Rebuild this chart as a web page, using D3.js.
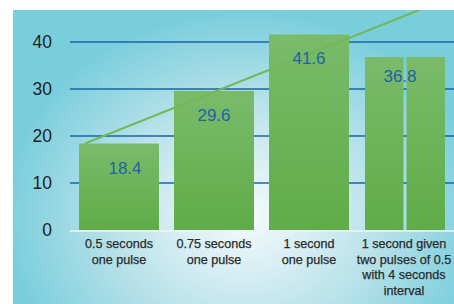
<!DOCTYPE html>
<html>
<head>
<meta charset="utf-8">
<script src="https://cdn.jsdelivr.net/npm/d3@7"></script>
<style>
  html, body { margin: 0; padding: 0; background: #fff; }
  svg { display: block; }
</style>
</head>
<body>
<div id="chart"></div>
<script>
const WIDTH = 454
const HEIGHT = 304

// data
const categories = ['0.5 seconds one pulse', '0.75 seconds one pulse', '1 second one pulse', '1 second given two pulses']
const values = [18.4, 29.6, 41.6, 36.8]
const subBars = [1, 1, 1, 2] // last one is drawn as two pulses
const xLabels = [
  ['0.5 seconds', 'one pulse'],
  ['0.75 seconds', 'one pulse'],
  ['1 second', 'one pulse'],
  ['1 second given', 'two pulses of 0.5', 'with 4 seconds', 'interval'],
]
const yTicks = [0, 10, 20, 30, 40]
// trend line: position in category units (0 = first bar centre), value
const trendPos = [-0.36, 3.16]
const trendVal = [18.4, 46.8]

const svg = d3.select('#chart').append('svg')
  .attr('width', WIDTH).attr('height', HEIGHT)

const defs = svg.append('defs')
const bg = defs.append('radialGradient').attr('id', 'bg')
  .attr('gradientUnits', 'userSpaceOnUse')
  .attr('cx', 245).attr('cy', 215).attr('r', 240)
  .attr('gradientTransform', 'translate(245,215) scale(1,0.85) translate(-245,-215)')
bg.append('stop').attr('offset', 0).attr('stop-color', '#f6fbfc')
bg.append('stop').attr('offset', 0.55).attr('stop-color', '#b9e2ea')
bg.append('stop').attr('offset', 1).attr('stop-color', '#79cedc')

const barGrad = defs.append('linearGradient').attr('id', 'bar')
  .attr('x1', 0).attr('y1', 0).attr('x2', 0).attr('y2', 1)
barGrad.append('stop').attr('offset', 0).attr('stop-color', '#79bb6a')
barGrad.append('stop').attr('offset', 1).attr('stop-color', '#60ac48')

defs.append('clipPath').attr('id', 'panel')
  .append('rect').attr('x', 13).attr('y', 10).attr('width', WIDTH - 13).attr('height', HEIGHT - 10)

svg.append('rect')
  .attr('x', 13).attr('y', 10)
  .attr('width', WIDTH - 13).attr('height', HEIGHT - 10)
  .attr('fill', 'url(#bg)')

const x = d3.scaleBand()
  .domain(categories)
  .range([71.5, 451.5])
  .paddingInner(15 / 95)
  .paddingOuter(0.079)

const y = d3.scaleLinear().domain([0, 40]).range([230, 42])

// continuous x for the trend line
const xc = d3.scaleLinear()
  .domain([0, 1])
  .range([x(categories[0]) + x.bandwidth() / 2, x(categories[1]) + x.bandwidth() / 2])

// grid
svg.append('g').selectAll('line')
  .data(yTicks.filter(d => d > 0))
  .join('line')
  .attr('x1', 70).attr('x2', WIDTH)
  .attr('y1', d => y(d)).attr('y2', d => y(d))
  .attr('stroke', '#1a64a6').attr('stroke-width', 1.6)

svg.append('line')
  .attr('x1', 70).attr('x2', WIDTH)
  .attr('y1', y(0) + 1).attr('y2', y(0) + 1)
  .attr('stroke', '#eef6f8').attr('stroke-width', 1.5)

// y tick labels
svg.append('g').selectAll('text')
  .data(yTicks)
  .join('text')
  .attr('x', 52).attr('y', d => y(d))
  .attr('dy', '0.36em')
  .attr('text-anchor', 'end')
  .attr('font-family', 'Liberation Sans, Arial, sans-serif')
  .attr('font-size', 17.5)
  .attr('fill', '#222')
  .text(d => d)

// bars (last one split into two pulses)
const gap = 3
const bars = []
categories.forEach((c, i) => {
  const n = subBars[i]
  const w = (x.bandwidth() - gap * (n - 1)) / n
  for (let k = 0; k < n; k++) {
    bars.push({ x: x(c) + k * (w + gap) + (n > 1 ? 1 : 0), w: w, v: values[i] })
  }
})

svg.append('g').selectAll('rect')
  .data(bars)
  .join('rect')
  .attr('x', d => d.x)
  .attr('width', d => d.w)
  .attr('y', d => y(d.v))
  .attr('height', d => y(0) - y(d.v))
  .attr('fill', 'url(#bar)')

// trend line
const line = d3.line().x(d => xc(d[0])).y(d => y(d[1]))
svg.append('path')
  .datum(trendPos.map((p, i) => [p, trendVal[i]]))
  .attr('d', line)
  .attr('clip-path', 'url(#panel)')
  .attr('fill', 'none')
  .attr('stroke', '#72b955')
  .attr('stroke-width', 2)

// value labels
svg.append('g').selectAll('text')
  .data(values)
  .join('text')
  .attr('x', (d, i) => x(categories[i]) + x.bandwidth() / 2 + (i === 0 ? 6 : i === 3 ? -4 : 0))
  .attr('y', (d, i) => y(d) + (i === 3 ? 25 : 30))
  .attr('text-anchor', 'middle')
  .attr('font-family', 'Liberation Sans, Arial, sans-serif')
  .attr('font-size', 17)
  .attr('fill', '#1f62a6')
  .text(d => d)

// x labels
const xl = svg.append('g').selectAll('text')
  .data(xLabels)
  .join('text')
  .attr('x', (d, i) => x(categories[i]) + x.bandwidth() / 2)
  .attr('y', 248)
  .attr('text-anchor', 'middle')
  .attr('font-family', 'Liberation Sans, Arial, sans-serif')
  .attr('font-size', 12.6)
  .attr('fill', '#2a2a2a')
  .attr('stroke', '#2a2a2a')
  .attr('stroke-width', 0.25)

xl.selectAll('tspan')
  .data(d => d)
  .join('tspan')
  .attr('x', function () { return d3.select(this.parentNode).attr('x') })
  .attr('dy', (d, i) => i === 0 ? 0 : 15.5)
  .text(d => d)
</script>
</body>
</html>
